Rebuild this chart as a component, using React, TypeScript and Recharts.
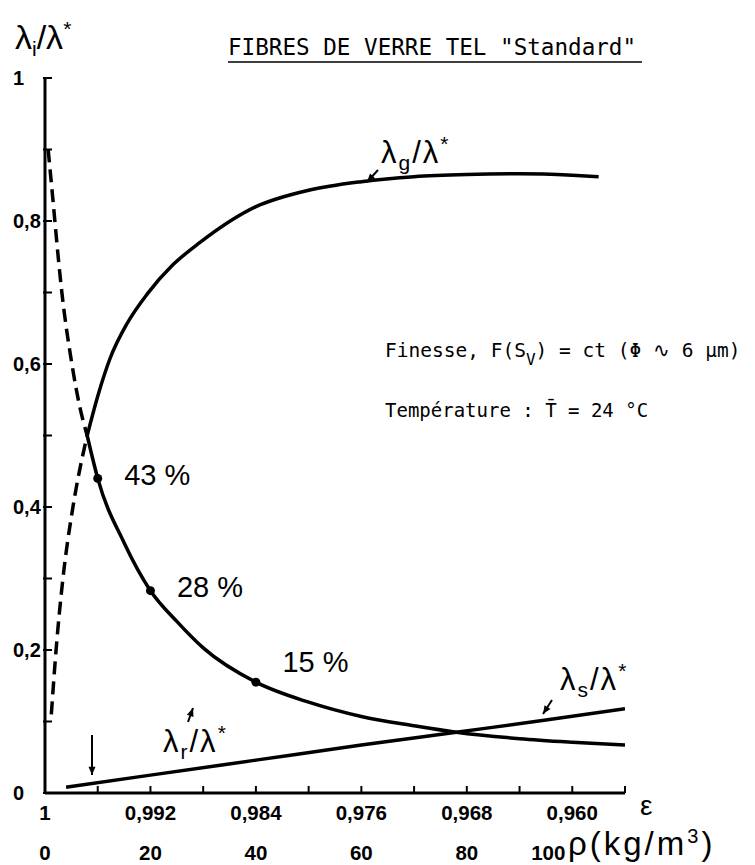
import React from "react";
import { ComposedChart, Line, Scatter, XAxis, YAxis, LabelList } from "recharts";

// abscissa: density rho (kg/m3), second row porosity epsilon
const RHO_TICKS = [0, 10, 20, 30, 40, 50, 60, 70, 80, 90, 100, 110];
const RHO_LABEL_AT = [0, 20, 40, 60, 80, 100];
const RHO_LABELS = ["0", "20", "40", "60", "80", "100"];
const EPS_LABELS = ["1", "0,992", "0,984", "0,976", "0,968", "0,960"];
const Y_TICKS = [0, 0.1, 0.2, 0.3, 0.4, 0.5, 0.6, 0.7, 0.8, 0.9, 1];
const Y_LABEL_AT = [0, 0.2, 0.4, 0.6, 0.8, 1];

// lambda_r / lambda*
const R_DASH_RHO = [0.6, 1.5, 2.5, 3.2, 5.1, 6.6, 8];
const R_DASH_VAL = [0.9, 0.83, 0.75, 0.7, 0.6, 0.54, 0.5];
const R_RHO = [8, 10, 15, 20, 25, 30, 40, 50, 60, 70, 78, 90, 100, 110];
const R_VAL = [0.5, 0.44, 0.35, 0.283, 0.24, 0.203, 0.155, 0.127, 0.107, 0.094, 0.085, 0.076, 0.071, 0.067];

// lambda_g / lambda*
const G_DASH_RHO = [1.2, 2.1, 3.4, 5.3, 8];
const G_DASH_VAL = [0.11, 0.2, 0.3, 0.4, 0.5];
const G_RHO = [8, 10, 12.3, 15.6, 19.4, 24.3, 29.4, 40, 50, 60, 70, 80, 90, 100, 105];
const G_VAL = [0.5, 0.555, 0.607, 0.657, 0.698, 0.739, 0.77, 0.82, 0.843, 0.855, 0.862, 0.865, 0.866, 0.864, 0.862];

// lambda_s / lambda*
const S_RHO = [4, 20, 40, 60, 78, 95, 110];
const S_VAL = [0.008, 0.025, 0.046, 0.067, 0.085, 0.102, 0.118];

// marked points on lambda_r
const PT_RHO = [10, 20, 40];
const PT_VAL = [0.44, 0.283, 0.155];
const PT_LABELS = ["43 %", "28 %", "15 %"];

const zip = (xs: number[], ys: number[]) => xs.map((x, i) => ({ rho: x, v: ys[i] }));

const SANS = "'Liberation Sans', Arial, sans-serif";
const MONO = "'DejaVu Sans Mono', 'Liberation Mono', monospace";

function XTick(props: any) {
  const { x, y, payload } = props;
  const i = RHO_LABEL_AT.indexOf(payload.value);
  // the last rho label sits left of its tick to leave room for the unit
  const shift = payload.value === 100 ? -24 : 0;
  return (
    <g>
      <line x1={x} x2={x} y1={y} y2={y - 7} stroke="#000" strokeWidth={2} />
      {i >= 0 && (
        <>
          <text x={x} y={y + 27} textAnchor="middle" fontFamily={SANS} fontWeight="bold" fontSize={20.5} fill="#000">
            {EPS_LABELS[i]}
          </text>
          <text x={x + shift} y={y + 67} textAnchor="middle" fontFamily={SANS} fontWeight="bold" fontSize={20.5} fill="#000">
            {RHO_LABELS[i]}
          </text>
        </>
      )}
    </g>
  );
}

function YTick(props: any) {
  const { x, y, payload } = props;
  const show = Y_LABEL_AT.some((v) => Math.abs(v - payload.value) < 1e-6);
  const label = payload.value === 0 ? "0" : payload.value === 1 ? "1" : String(payload.value).replace(".", ",");
  return (
    <g>
      <line x1={x - 2} x2={x + 7} y1={y} y2={y} stroke="#000" strokeWidth={2} />
      {show && (
        <text x={x - 32} y={y + 7} textAnchor="start" fontFamily={SANS} fontWeight="bold" fontSize={20} fill="#000">
          {label}
        </text>
      )}
    </g>
  );
}

// percent labels: the last one sits above-right of its dot
function PctLabel(props: any) {
  const { x, y, width, height, value, index } = props;
  const dy = index === 2 ? -20 : index === 0 ? -3 : -4;
  return (
    <text x={x + width + 22} y={y + height / 2 + dy} dominantBaseline="central" fontFamily={SANS} fontSize={29} fill="#000">
      {value}
    </text>
  );
}

function Arrow({ x1, y1, x2, y2 }: { x1: number; y1: number; y2: number; x2: number }) {
  const a = Math.atan2(y2 - y1, x2 - x1);
  const L = 9;
  const w = 0.4;
  const p1 = [x2 - L * Math.cos(a - w), y2 - L * Math.sin(a - w)];
  const p2 = [x2 - L * Math.cos(a + w), y2 - L * Math.sin(a + w)];
  return (
    <g>
      <line x1={x1} y1={y1} x2={x2} y2={y2} stroke="#000" strokeWidth={2} />
      <polygon points={`${x2},${y2} ${p1[0]},${p1[1]} ${p2[0]},${p2[1]}`} fill="#000" />
    </g>
  );
}

function LambdaLabel({ x, y, sub, star }: { x: number; y: number; sub: string; star: string }) {
  return (
    <text x={x} y={y} fontFamily={SANS} fontSize={31} fill="#000" letterSpacing={2}>
      λ
      <tspan fontSize={21} dy={7}>{sub}</tspan>
      <tspan dy={-7}>/λ</tspan>
      <tspan fontSize={21} dy={-12}>{star}</tspan>
    </text>
  );
}

export default function App() {
  return (
    <div style={{ position: "relative", width: 755, height: 865, background: "#fff" }}>
      <style>{"body{margin:0}"}</style>
      <ComposedChart width={755} height={865} margin={{ top: 78, right: 130, bottom: 0, left: 0 }}>
        <XAxis
          dataKey="rho"
          type="number"
          domain={[0, 110]}
          ticks={RHO_TICKS}
          interval={0}
          height={72}
          tickSize={0}
          tickMargin={0}
          tickLine={false}
          tick={<XTick />}
          axisLine={{ stroke: "#000", strokeWidth: 3 }}
          allowDataOverflow
        />
        <YAxis
          type="number"
          domain={[0, 1]}
          ticks={Y_TICKS}
          interval={0}
          width={45}
          tickSize={0}
          tickMargin={0}
          tickLine={false}
          tick={<YTick />}
          axisLine={{ stroke: "#000", strokeWidth: 3 }}
        />
        <Line data={zip(R_DASH_RHO, R_DASH_VAL)} dataKey="v" type="monotone" stroke="#000" strokeWidth={3.5} strokeDasharray="13 7" dot={false} isAnimationActive={false} />
        <Line data={zip(G_DASH_RHO, G_DASH_VAL)} dataKey="v" type="monotone" stroke="#000" strokeWidth={3.5} strokeDasharray="13 7" dot={false} isAnimationActive={false} />
        <Line data={zip(R_RHO, R_VAL)} dataKey="v" type="monotone" stroke="#000" strokeWidth={3.5} dot={false} isAnimationActive={false} />
        <Line data={zip(G_RHO, G_VAL)} dataKey="v" type="monotone" stroke="#000" strokeWidth={3.5} dot={false} isAnimationActive={false} />
        <Line data={zip(S_RHO, S_VAL)} dataKey="v" type="monotone" stroke="#000" strokeWidth={3.5} dot={false} isAnimationActive={false} />
        <Scatter
          data={PT_RHO.map((r, i) => ({ rho: r, v: PT_VAL[i], label: PT_LABELS[i] }))}
          dataKey="v"
          fill="#000"
          shape={(p: any) => <circle cx={p.cx} cy={p.cy} r={4.5} fill="#000" />}
          isAnimationActive={false}
        >
          <LabelList dataKey="label" content={<PctLabel />} />
        </Scatter>
      </ComposedChart>
      <svg width={755} height={865} style={{ position: "absolute", left: 0, top: 0, pointerEvents: "none" }}>
        <text x={15} y={49} fontFamily={SANS} fontSize={34} fill="#000">
          λ<tspan fontSize={21} dy={7}>i</tspan>
          <tspan dy={-7}>/λ</tspan>
          <tspan fontSize={21} dy={-13}>*</tspan>
        </text>
        <text x={228} y={55} fontFamily={MONO} fontSize={22.6} fill="#000">
          FIBRES DE VERRE TEL "Standard"
        </text>
        <line x1={228} x2={642} y1={62} y2={62} stroke="#000" strokeWidth={1.5} />
        <text x={385} y={357} fontFamily={MONO} fontSize={19.5} fill="#000">
          Finesse, F(S<tspan fontSize={16} dy={8}>V</tspan>
          <tspan dy={-8}>) = ct (Φ ∿ 6 µm)</tspan>
        </text>
        <text x={385} y={417} fontFamily={MONO} fontSize={19} fill="#000">
          Température : T̄ = 24 °C
        </text>
        <LambdaLabel x={381} y={163} sub="g" star="*" />
        <Arrow x1={378} y1={170} x2={367} y2={182} />
        <LambdaLabel x={163} y={752} sub="r" star="*" />
        <Arrow x1={188} y1={722} x2={193} y2={708} />
        <LambdaLabel x={560} y={690} sub="s" star="*" />
        <Arrow x1={552} y1={700} x2={543} y2={714} />
        <Arrow x1={92} y1={735} x2={92} y2={775} />
        <text x={640} y={815} fontFamily={SANS} fontSize={28} fill="#000">ε</text>
        <text x={568} y={855} fontFamily={SANS} fontSize={33} fill="#000" letterSpacing={3}>
          ρ(kg/m<tspan fontSize={20} dy={-12}>3</tspan>
          <tspan dy={12}>)</tspan>
        </text>
      </svg>
    </div>
  );
}
